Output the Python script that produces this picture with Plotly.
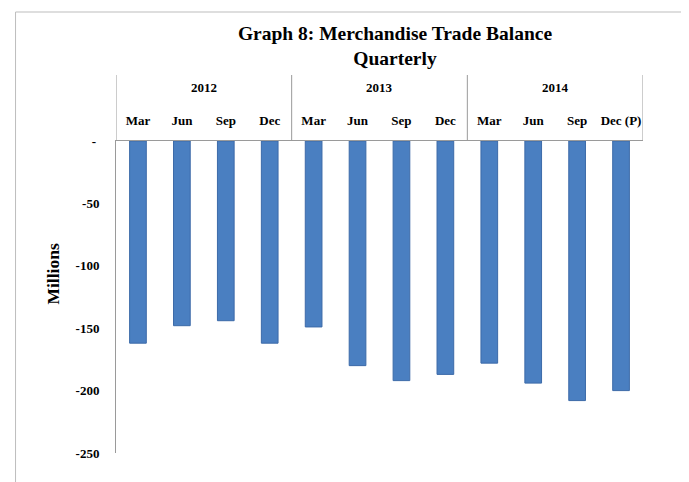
import plotly.graph_objects as go

years = ["2012", "2013", "2014"]
months = ["Mar", "Jun", "Sep", "Dec", "Mar", "Jun", "Sep", "Dec", "Mar", "Jun", "Sep", "Dec (P)"]
year_of = ["2012"] * 4 + ["2013"] * 4 + ["2014"] * 4
values = [-162, -148, -144, -162, -149, -180, -192, -187, -178, -194, -208, -200]
y_ticks = [0, -50, -100, -150, -200, -250]
y_ticktext = ["-\u00a0", "-50", "-100", "-150", "-200", "-250"]

cats = [f"{m} {y}" for m, y in zip(months, year_of)]

FONT = "Liberation Serif"
AXIS_GRAY = "#9a9a9a"

# page body has an 8px margin: figure coordinates are shifted by -8
W, H = 681, 474
PL, PR, PT, PB = 107.5, 634.7, 133, 445
plot_w = PR - PL
plot_h = PB - PT

fig = go.Figure()
fig.add_trace(go.Bar(
    x=cats, y=values, width=0.38,
    marker=dict(color="#4a7fc1", line=dict(color="#3c6aa8", width=1)),
    showlegend=False,
))

top_box = (PT - 67) / plot_h

shapes = []
for xv in [-0.5, 3.5, 7.5, 11.5]:
    shapes.append(dict(type="line", xref="x", yref="paper", x0=xv, x1=xv,
                       y0=1, y1=1 + top_box, line=dict(color=AXIS_GRAY, width=1)))
shapes.append(dict(type="rect", xref="paper", yref="paper",
                   x0=(7 - PL) / plot_w, x1=(674 - PL) / plot_w,
                   y0=-0.5, y1=(PB - 4) / plot_h,
                   line=dict(color="#bdbdbd", width=1), fillcolor="rgba(0,0,0,0)", layer="below"))

annotations = []
for i, yr in enumerate(years):
    annotations.append(dict(text=f"<b>{yr}</b>", xref="x", yref="paper",
                            x=4 * i + 1.5, y=(PB - 79.5) / plot_h, showarrow=False,
                            yanchor="middle", font=dict(family=FONT, size=13, color="#000")))
annotations.append(dict(text="<b>Millions</b>", xref="paper", yref="paper",
                        x=(44 - PL) / plot_w, y=(PB - 266) / plot_h, textangle=-90,
                        showarrow=False, xanchor="center", yanchor="middle",
                        font=dict(family=FONT, size=17.5, color="#000")))

fig.update_layout(
    width=W, height=H,
    margin=dict(l=PL, r=W - PR, t=PT, b=H - PB),
    paper_bgcolor="white", plot_bgcolor="white",
    title=dict(text="<b>Graph 8: Merchandise Trade Balance<br>Quarterly</b>",
               x=387 / W, xanchor="center", xref="container",
               y=1 - 32 / H, yanchor="middle",
               font=dict(family=FONT, size=19.5, color="#000")),
    xaxis=dict(side="top", type="category", tickvals=cats,
               ticktext=[f"<b>{m}</b>" for m in months],
               showline=True, linecolor=AXIS_GRAY, linewidth=1,
               showgrid=False, ticks="", ticklabelstandoff=10,
               tickfont=dict(family=FONT, size=13, color="#000"),
               range=[-0.5, 11.5], fixedrange=True),
    yaxis=dict(range=[-250, 0], tickvals=y_ticks,
               ticktext=[f"<b>{t}</b>" for t in y_ticktext],
               showline=True, linecolor=AXIS_GRAY, linewidth=1,
               showgrid=False, zeroline=False, ticks="", ticklabelstandoff=13,
               tickfont=dict(family=FONT, size=13, color="#000")),
    shapes=shapes, annotations=annotations,
)

fig.write_html("out.html")
